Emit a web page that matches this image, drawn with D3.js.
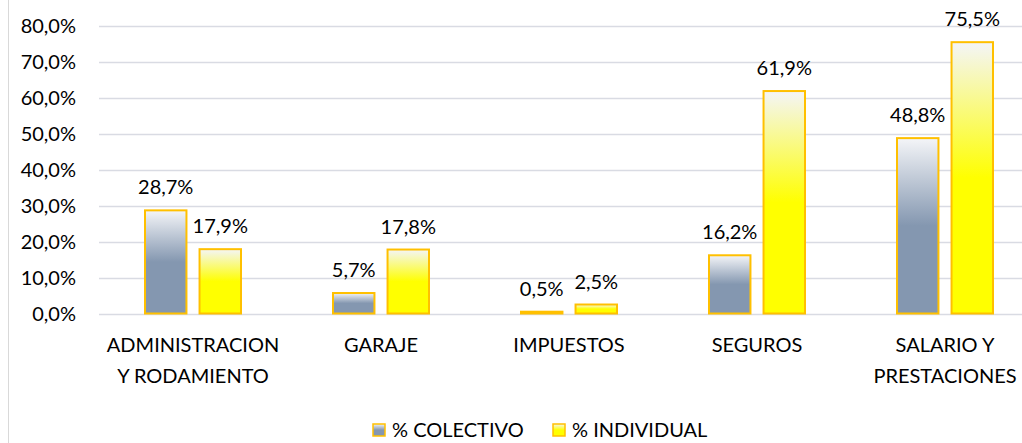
<!DOCTYPE html>
<html>
<head>
<meta charset="utf-8">
<script src="https://cdn.jsdelivr.net/npm/d3@7"></script>
<style>
body { margin: 0; background: #fff; }
svg text { font-family: Lato, "Open Sans", sans-serif; fill: #000; }
</style>
</head>
<body>
<svg id="chart" width="1022" height="443"></svg>
<script>
var categories = [["ADMINISTRACION", "Y RODAMIENTO"], ["GARAJE"], ["IMPUESTOS"], ["SEGUROS"], ["SALARIO Y", "PRESTACIONES"]];
var colectivo = [28.7, 5.7, 0.5, 16.2, 48.8];
var individual = [17.9, 17.8, 2.5, 61.9, 75.5];
var seriesNames = ["% COLECTIVO", "% INDIVIDUAL"];
var yTicks = [0, 10, 20, 30, 40, 50, 60, 70, 80];

function render_chart() {
    var svg = d3.select("#chart");
    var fmt = function(v) { return v.toFixed(1).replace(".", ",") + "%"; };

    var defs = svg.append("defs");
    var grads = [["gCol", "#8497b0"], ["gInd", "#ffff00"]];
    grads.forEach(function(g) {
        var lg = defs.append("linearGradient").attr("id", g[0])
            .attr("x1", 0).attr("y1", 0).attr("x2", 0).attr("y2", 1);
        lg.append("stop").attr("offset", "0%").attr("stop-color", "#f4f5f8");
        lg.append("stop").attr("offset", "50%").attr("stop-color", g[1]);
        lg.append("stop").attr("offset", "100%").attr("stop-color", g[1]);
    });

    // outer border on the left
    svg.append("line").attr("x1", 8.5).attr("x2", 8.5).attr("y1", 0).attr("y2", 443)
        .attr("stroke", "#d9d9d9");

    var keys = categories.map(function(c, i) { return i; });
    var x = d3.scaleBand().domain(keys).range([99, 1039]);
    var x1 = d3.scaleBand().domain([0, 1]).range([46, x.bandwidth() - 46]).paddingInner(0.24);
    var y = d3.scaleLinear().domain([0, 80]).range([313.5, 26]);

    svg.append("g").selectAll("line").data(yTicks).enter().append("line")
        .attr("x1", 99).attr("x2", 1039)
        .attr("y1", function(d) { return Math.round(y(d)) + 0.5; })
        .attr("y2", function(d) { return Math.round(y(d)) + 0.5; })
        .attr("stroke", "#d9dbe3").attr("stroke-width", 1.5);

    svg.append("g").selectAll("text").data(yTicks).enter().append("text")
        .attr("x", 76).attr("y", function(d) { return y(d) + 7; })
        .attr("text-anchor", "end").style("font-size", "20px")
        .text(fmt);

    var series = [colectivo, individual];
    var fills = ["url(#gCol)", "url(#gInd)"];
    series.forEach(function(vals, s) {
        var g = svg.append("g");
        g.selectAll("rect").data(vals).enter().append("rect")
            .attr("x", function(d, i) { return x(i) + x1(s); })
            .attr("width", x1.bandwidth())
            .attr("y", function(d) { return y(d); })
            .attr("height", function(d) { return y(0) - y(d); })
            .attr("fill", fills[s])
            .attr("stroke", "#ffc000").attr("stroke-width", 2);
        g.selectAll("text").data(vals).enter().append("text")
            .attr("x", function(d, i) { return x(i) + x1(s) + x1.bandwidth() / 2; })
            .attr("y", function(d) { return y(d) - 16; })
            .attr("text-anchor", "middle").style("font-size", "20px")
            .text(fmt);
    });

    var cat = svg.append("g").selectAll("text").data(categories).enter().append("text")
        .attr("text-anchor", "middle").style("font-size", "20px")
        .attr("transform", function(d, i) { return "translate(" + (x(i) + x.bandwidth() / 2) + ",352)"; });
    cat.selectAll("tspan").data(function(d) { return d; }).enter().append("tspan")
        .attr("x", 0).attr("dy", function(d, i) { return i === 0 ? 0 : 31; })
        .text(function(d) { return d; });

    var legX = [373, 553];
    var leg = svg.append("g").selectAll("g").data(seriesNames).enter().append("g")
        .attr("transform", function(d, i) { return "translate(" + legX[i] + ",424)"; });
    leg.append("rect").attr("width", 12).attr("height", 12)
        .attr("fill", function(d, i) { return fills[i]; })
        .attr("stroke", "#ffc000").attr("stroke-width", 1.5);
    leg.append("text").attr("x", 19).attr("y", 13).style("font-size", "20px")
        .text(function(d) { return d; });
}
render_chart();
</script>
</body>
</html>
